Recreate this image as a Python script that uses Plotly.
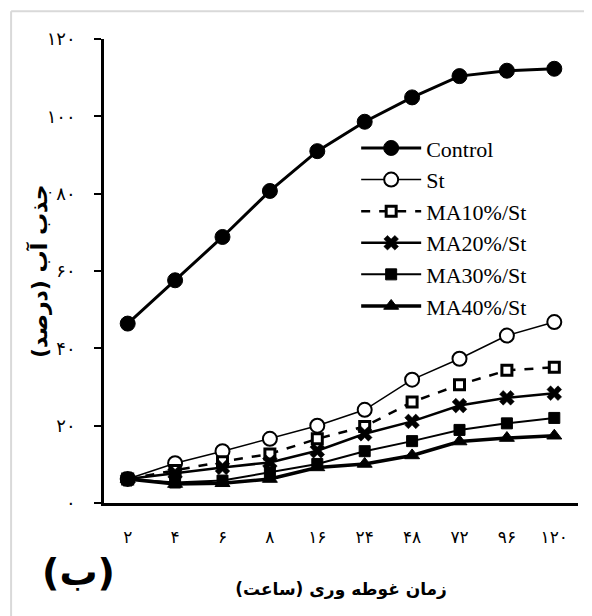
import plotly.graph_objects as go

hours_fa = ["۲", "۴", "۶", "۸", "۱۶", "۲۴", "۴۸", "۷۲", "۹۶", "۱۲۰"]

control = [46.4, 57.6, 68.8, 80.7, 91.0, 98.6, 104.9, 110.4, 111.8, 112.3]
st = [6.2, 10.3, 13.4, 16.6, 20.0, 24.1, 31.9, 37.3, 43.3, 46.8]
ma10 = [6.2, 8.4, 10.7, 12.7, 16.6, 19.8, 26.1, 30.6, 34.3, 35.1]
ma20 = [6.2, 7.7, 9.2, 10.5, 13.5, 17.9, 21.1, 25.2, 27.2, 28.4]
ma30 = [6.2, 5.3, 5.8, 7.9, 10.1, 13.4, 16.0, 18.9, 20.6, 22.0]
ma40 = [6.2, 4.9, 5.1, 6.2, 9.2, 10.1, 12.3, 15.9, 16.8, 17.4]

y_ticks = [0, 20, 40, 60, 80, 100, 120]
y_ticktext = ["۰", "۲۰", "۴۰", "۶۰", "۸۰", "۱۰۰", "۱۲۰"]

series = [
    ("Control", control, dict(width=3, dash="solid"),
     dict(symbol="circle", size=15, color="black", line=dict(color="black", width=1))),
    ("St", st, dict(width=1.5, dash="solid"),
     dict(symbol="circle", size=14, color="white", line=dict(color="black", width=2))),
    ("MA10%/St", ma10, dict(width=2.5, dash="dash"),
     dict(symbol="square", size=10, color="white", line=dict(color="black", width=3))),
    ("MA20%/St", ma20, dict(width=2.5, dash="solid"),
     dict(symbol="x", size=13, color="black", line=dict(color="black", width=0.5))),
    ("MA30%/St", ma30, dict(width=2, dash="solid"),
     dict(symbol="square", size=11, color="black", line=dict(color="black", width=1))),
    ("MA40%/St", ma40, dict(width=3.5, dash="solid"),
     dict(symbol="triangle-up", size=13, color="black", line=dict(color="black", width=1))),
]

fig = go.Figure()
for name, vals, ln, mk in series:
    fig.add_trace(go.Scatter(
        x=hours_fa, y=vals, name=name, mode="lines+markers",
        line=dict(color="black", **ln), marker=mk,
    ))

fig.update_layout(
    width=592, height=616,
    margin=dict(l=96, r=22, t=31, b=121),
    paper_bgcolor="white", plot_bgcolor="white",
    showlegend=True,
    legend=dict(
        x=0.532, y=0.81, xanchor="left", yanchor="top",
        bgcolor="rgba(0,0,0,0)",
        font=dict(family="Liberation Serif", size=22, color="black"),
        tracegroupgap=0, itemwidth=60,
    ),
    xaxis=dict(
        type="category", range=[-0.5, 9.5],
        showline=True, linecolor="black", linewidth=2.5,
        ticks="", showgrid=False, zeroline=False,
        tickfont=dict(family="DejaVu Sans", size=17, color="black"),
        ticklabelstandoff=17,
        title=dict(text="<b>زمان غوطه وری (ساعت)</b>",
                   font=dict(family="DejaVu Sans", size=17, color="black"),
                   standoff=37),
    ),
    yaxis=dict(
        range=[0, 120], tickvals=y_ticks, ticktext=y_ticktext,
        showline=True, linecolor="black", linewidth=2.5,
        ticks="outside", ticklen=7, tickwidth=2, tickcolor="black",
        showgrid=False, zeroline=False,
        tickfont=dict(family="DejaVu Sans", size=18, color="black"),
        ticklabelstandoff=15,
    ),
)

# y-axis title (placed as a rotated annotation so it can sit close to the tick labels)
fig.add_annotation(
    text="<b>جذب آب (درصد)</b>", xref="paper", yref="paper",
    x=-0.139, y=0.5, xanchor="center", yanchor="middle", textangle=-90,
    showarrow=False, font=dict(family="DejaVu Sans", size=22, color="black"),
)

fig.add_annotation(
    text="<b>(ب)</b>", xref="paper", yref="paper",
    x=-0.053, y=-0.149, xanchor="center", yanchor="middle",
    showarrow=False, font=dict(family="DejaVu Sans", size=38, color="black"),
)

# light gray frame around the chart image
fig.add_shape(type="line", xref="paper", yref="paper",
              x0=-0.196, x1=1.2, y0=1.06, y1=1.06,
              line=dict(color="#d9d9d9", width=2))
fig.add_shape(type="line", xref="paper", yref="paper",
              x0=-0.196, x1=-0.196, y0=1.06, y1=-0.3,
              line=dict(color="#d9d9d9", width=2))

fig.write_html("out.html")
